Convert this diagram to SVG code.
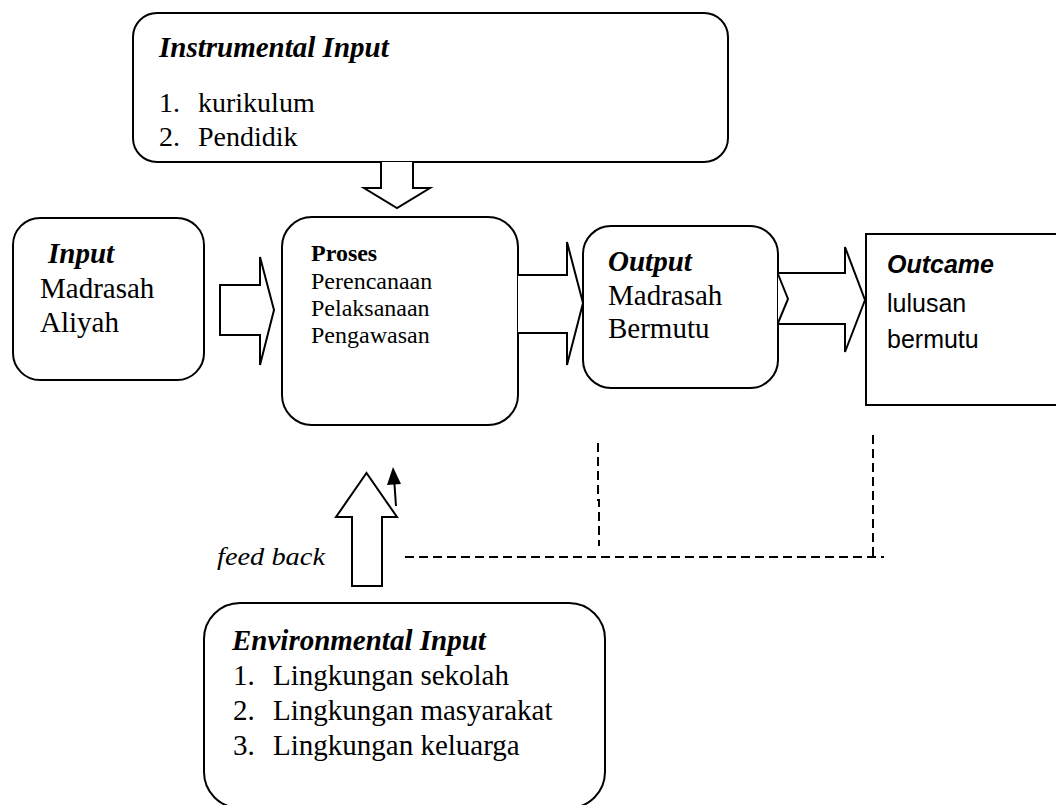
<svg xmlns="http://www.w3.org/2000/svg" width="1056" height="805" viewBox="0 0 1056 805">
<style>
.box{fill:#fff;stroke:#000;stroke-width:2}
.arr{fill:#fff;stroke:#000;stroke-width:2;stroke-linejoin:miter}
.t{font-family:"Liberation Serif","Times New Roman",serif;fill:#000}
.s{font-family:"Liberation Sans",Arial,sans-serif;fill:#000}
.bi{font-weight:bold;font-style:italic}
.dash{fill:none;stroke:#000;stroke-width:2;stroke-dasharray:9 5}
</style>
<rect width="1056" height="805" fill="#fff"/>
<g id="instrumental">
<rect class="box" x="133" y="13" width="595" height="149" rx="24"/>
<text class="t bi" x="159" y="57" font-size="29">Instrumental Input</text>
<text class="t" x="159" y="112" font-size="28">1.</text>
<text class="t" x="198" y="112" font-size="28">kurikulum</text>
<text class="t" x="159" y="146" font-size="28">2.</text>
<text class="t" x="198" y="146" font-size="28">Pendidik</text>
</g>
<g id="input">
<rect class="box" x="13" y="218" width="191" height="162" rx="27"/>
<text class="t bi" x="48" y="263" font-size="29">Input</text>
<text class="t" x="40" y="298" font-size="29">Madrasah</text>
<text class="t" x="40" y="332" font-size="29">Aliyah</text>
</g>
<g id="proses">
<rect class="box" x="282" y="217" width="236" height="208" rx="30"/>
<text class="t" x="311" y="261" font-size="24" font-weight="bold">Proses</text>
<text class="t" x="311" y="289" font-size="24">Perencanaan</text>
<text class="t" x="311" y="316" font-size="24">Pelaksanaan</text>
<text class="t" x="311" y="343" font-size="24">Pengawasan</text>
</g>
<g id="output">
<rect class="box" x="583" y="226" width="195" height="162" rx="28"/>
<text class="t bi" x="608" y="271" font-size="29">Output</text>
<text class="t" x="608" y="305" font-size="29">Madrasah</text>
<text class="t" x="608" y="338" font-size="29">Bermutu</text>
</g>
<g id="outcame">
<path class="box" d="M1058,234 H866 V405 H1058"/>
<text class="s bi" x="887" y="273" font-size="25">Outcame</text>
<text class="s" x="887" y="312" font-size="25">lulusan</text>
<text class="s" x="887" y="348" font-size="25">bermutu</text>
</g>
<g id="environmental">
<rect class="box" x="204" y="603" width="401" height="205" rx="36"/>
<text class="t bi" x="232" y="650" font-size="29">Environmental Input</text>
<text class="t" x="233" y="685" font-size="29">1.</text>
<text class="t" x="273" y="685" font-size="29">Lingkungan sekolah</text>
<text class="t" x="233" y="720" font-size="29">2.</text>
<text class="t" x="273" y="720" font-size="29">Lingkungan masyarakat</text>
<text class="t" x="233" y="755" font-size="29">3.</text>
<text class="t" x="273" y="755" font-size="29">Lingkungan keluarga</text>
</g>
<g id="feedback-label">
<text class="t" x="217" y="565" font-size="25" font-style="italic" textLength="108" lengthAdjust="spacingAndGlyphs">feed back</text>
</g>
<g id="connectors">
<path class="arr" d="M381,162 V188 H364 L397,208 L430,188 H413 V162"/>
<path class="arr" d="M220,285 H260 V257 L274,310 L260,365 V335 H220 Z"/>
<path class="arr" d="M518,275 H567 V242 L583,303 L567,365 V333 H518"/>
<path class="arr" d="M778,273 H845 V247 L865,300 L845,352 V324 H778"/>
<polyline class="arr" fill="none" points="778,274 788,299 778,323"/>
<path class="arr" d="M352,586 V517 H336 L366.5,473 L397,517 H382 V586 Z"/>
<line x1="396" y1="506" x2="394.3" y2="482" stroke="#000" stroke-width="2"/>
<polygon points="387,485 393,467 401,484" fill="#000"/>
<path class="dash" d="M405,557 H884"/>
<path class="dash" d="M598,443 V500 L599,500 V546"/>
<path class="dash" d="M873,435 V556"/>
</g>
</svg>
